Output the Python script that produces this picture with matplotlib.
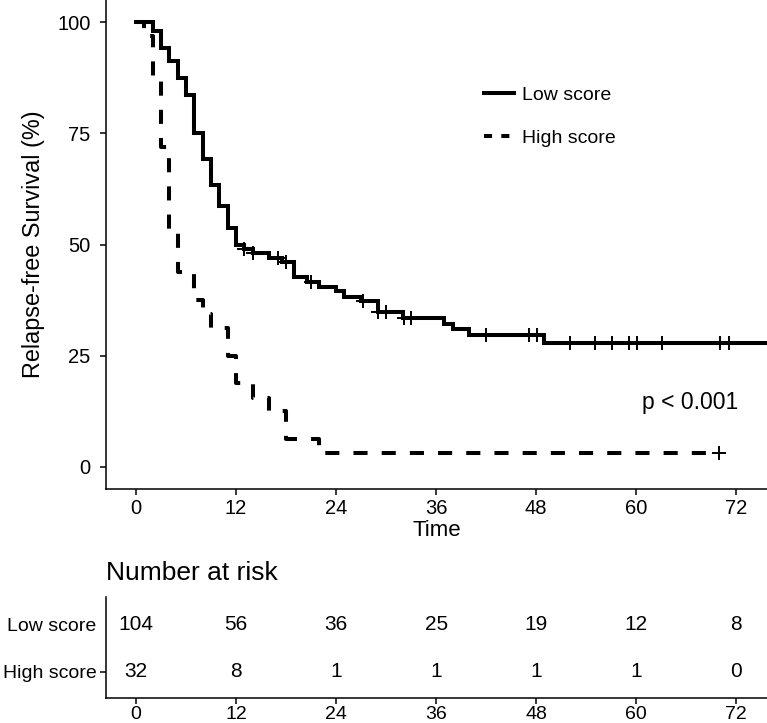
import matplotlib
matplotlib.use("Agg")
import matplotlib.pyplot as plt
from matplotlib.lines import Line2D

plt.rcParams['font.family'] = ['Liberation Sans', 'DejaVu Sans']

# ---------------- data ----------------
# Low score: step times and survival (%)
low_t = [0, 2, 3, 4, 5, 6, 7, 8, 9, 10, 11, 12, 13, 14, 16, 17.5, 19, 20.5, 22,
         24, 25, 27, 29, 32, 37, 38, 40, 49, 76]
low_s = [100, 98.1, 94.2, 91.3, 87.5, 83.7, 75.0, 69.2, 63.5, 58.7, 53.8, 50.0,
         49.0, 48.1, 47.1, 46.2, 42.7, 41.5, 40.4, 39.6, 38.3, 37.3, 34.8, 33.6,
         32.2, 31.0, 29.7, 27.8, 27.8]
low_cens_t = [13.0, 14.0, 17.0, 18.0, 21.0, 27.2, 29.0, 30.0, 32.1, 33.0, 42.0,
              47.1, 48.1, 52.1, 55.1, 57.1, 59.1, 60.1, 63.1, 70.1, 71.1]
low_cens_s = [49.0, 48.1, 47.1, 46.2, 41.5, 37.3, 34.8, 34.8, 33.6, 33.6, 29.7,
              29.7, 29.7, 27.8, 27.8, 27.8, 27.8, 27.8, 27.8, 27.8, 27.8]

# High score
high_t = [0, 1, 2, 3, 4, 5, 7, 8, 9, 11, 12, 14, 16, 18, 22, 70]
high_s = [100, 96.9, 87.5, 71.9, 53.1, 43.8, 37.5, 34.4, 31.3, 25.0, 18.8, 15.6,
          12.5, 6.3, 3.1, 3.1]
high_cens_t = [70.0]
high_cens_s = [3.1]

# Number at risk
risk_times = [0, 12, 24, 36, 48, 60, 72]
risk_low = [104, 56, 36, 25, 19, 12, 8]
risk_high = [32, 8, 1, 1, 1, 1, 0]
groups = ["Low score", "High score"]

x_ticks = [0, 12, 24, 36, 48, 60, 72]
y_ticks = [0, 25, 50, 75, 100]

# ---------------- figure ----------------
W, H = 767, 723
fig = plt.figure(figsize=(W / 100, H / 100), dpi=100)

LW = 2.9
DASH = (0, (3.5, 3.5))

ax = fig.add_axes([106 / W, 1 - 489 / H, 661 / W, 489 / H])
ax.step(low_t, low_s, where='post', color='black', lw=LW, solid_joinstyle='miter')
ax.step(high_t, high_s, where='post', color='black', lw=LW, linestyle=DASH)
ax.plot(low_cens_t, low_cens_s, linestyle='none', marker='+', markersize=10,
        markeredgewidth=1.4, color='black')
ax.plot(high_cens_t, high_cens_s, linestyle='none', marker='+', markersize=10,
        markeredgewidth=1.4, color='black')

ax.set_xlim(-3.6, 75.7)
ax.set_ylim(-4.95, 105.0)
ax.set_xticks(x_ticks)
ax.set_yticks(y_ticks)
ax.tick_params(axis='both', labelsize=14.5, length=4, width=1.1, colors='black')
ax.tick_params(axis='y', pad=7)
ax.tick_params(axis='x', pad=3)
for s in ['top', 'right']:
    ax.spines[s].set_visible(False)
for s in ['left', 'bottom']:
    ax.spines[s].set_linewidth(1.1)
ax.set_xlabel("Time", fontsize=16, labelpad=2)
ax.set_ylabel("Relapse-free Survival (%)", fontsize=16.8, labelpad=9)

ax.text(66.5, 14.4, "p < 0.001", fontsize=16.5, ha='center', va='center')

handles = [Line2D([], [], color='black', lw=LW),
           Line2D([], [], color='black', lw=LW, linestyle=(0, (2.0, 2.3)))]
ax.legend(handles, groups, loc='upper left', bbox_to_anchor=(0.5455, 0.859),
          frameon=False, fontsize=14, handlelength=1.55, handletextpad=0.42,
          labelspacing=1.29)

# ---------------- risk table ----------------
tab = fig.add_axes([106 / W, 1 - 698.3 / H, 661 / W, (698.3 - 596.7) / H])
tab.set_xlim(-3.6, 75.7)
tab.set_ylim(0.43, 2.6)
rows = [risk_low, risk_high]
ypos = [2, 1]
for vals, yy in zip(rows, ypos):
    for t, v in zip(risk_times, vals):
        tab.text(t, yy, str(v), ha='center', va='center', fontsize=15)
tab.set_xticks(x_ticks)
tab.set_yticks(ypos)
tab.set_yticklabels(groups)
tab.tick_params(axis='both', length=4, width=1.1, colors='black')
tab.tick_params(axis='x', pad=1.5, labelsize=14)
tab.tick_params(axis='y', pad=3, labelsize=14)
tab.yaxis.get_major_ticks()[0].tick1line.set_visible(False)
for s in ['top', 'right']:
    tab.spines[s].set_visible(False)
for s in ['left', 'bottom']:
    tab.spines[s].set_linewidth(1.1)
fig.text(106 / W, 1 - 573 / H, "Number at risk", fontsize=19, ha='left', va='center')

fig.savefig("out.png", dpi=100)
